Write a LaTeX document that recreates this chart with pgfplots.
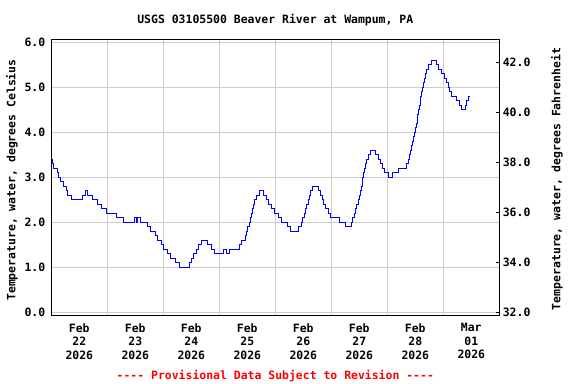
\documentclass[border=0pt]{standalone}
\usepackage{pgfplots}
\pgfplotsset{compat=1.18}
\usepackage{fontspec}
\newfontfamily\chartfont{DejaVu Sans Mono}[Ligatures=TeXOff]
\newcommand\cf{\chartfont\bfseries\fontsize{11.5}{13.5}\selectfont}
\definecolor{gridgray}{RGB}{204,204,204}
\definecolor{usgsblue}{RGB}{0,0,255}
\begin{document}
\begin{tikzpicture}
\path[use as bounding box] (0,0) rectangle (576bp,384bp);
\begin{axis}[
  at={(51.3bp,69bp)}, anchor=south west,
  scale only axis, width=448bp, height=275bp,
  xmin=0, xmax=8, ymin=-0.06, ymax=6.05,
  xtick={0.5,1.5,2.5,3.5,4.5,5.5,6.5,7.5},
  xticklabels={{Feb\\22\\2026},{Feb\\23\\2026},{Feb\\24\\2026},{Feb\\25\\2026},{Feb\\26\\2026},{Feb\\27\\2026},{Feb\\28\\2026},{Mar\\01\\2026}},
  minor xtick={1,2,3,4,5,6,7},
  xminorgrids=true, xmajorgrids=false,
  ytick={0,1,2,3,4,5,6},
  yticklabels={0.0,1.0,2.0,3.0,4.0,5.0,6.0},
  ymajorgrids=true,
  major tick length=0pt, minor tick length=0pt,
  grid style={gridgray, line width=1bp},
  minor grid style={gridgray, line width=1bp},
  axis line style={black, line width=1bp},
  tick label style={font=\cf},
  yticklabel style={xshift=-2.5bp},
  xticklabel style={align=center, yshift=-5bp},
]
\addplot[const plot, usgsblue, line width=1bp] coordinates {
(0,3.4)(0.02,3.3)(0.048,3.2)(0.108,3.1)(0.137,3.0)(0.167,2.9)(0.209,2.8)(0.280,2.7)(0.298,2.6)(0.358,2.5)
(0.554,2.6)(0.608,2.7)(0.643,2.6)(0.739,2.5)(0.822,2.4)(0.905,2.3)(0.989,2.2)(1.173,2.1)(1.292,2.0)
(1.477,2.1)(1.520,2.0)(1.540,2.1)(1.584,2.0)(1.721,1.9)(1.775,1.8)(1.852,1.7)(1.893,1.6)(1.970,1.5)
(2.006,1.4)(2.078,1.3)(2.137,1.2)(2.220,1.1)(2.286,1.0)(2.465,1.1)(2.506,1.2)(2.536,1.3)(2.595,1.4)
(2.625,1.5)(2.685,1.6)(2.792,1.5)(2.860,1.4)(2.923,1.3)(3.083,1.4)(3.131,1.3)(3.190,1.4)(3.357,1.5)
(3.400,1.6)(3.464,1.7)(3.488,1.8)(3.512,1.9)(3.536,2.0)(3.560,2.1)(3.583,2.2)(3.595,2.3)(3.607,2.4)
(3.631,2.5)(3.661,2.6)(3.714,2.7)(3.786,2.6)(3.845,2.5)(3.881,2.4)(3.940,2.3)(3.988,2.2)(4.054,2.1)
(4.107,2.0)(4.226,1.9)(4.280,1.8)(4.411,1.9)(4.471,2.0)(4.494,2.1)(4.518,2.2)(4.542,2.3)(4.566,2.4)
(4.590,2.5)(4.613,2.6)(4.637,2.7)(4.661,2.8)(4.768,2.7)(4.815,2.6)(4.839,2.5)(4.863,2.4)(4.899,2.3)
(4.946,2.2)(4.994,2.1)(5.143,2.0)(5.256,1.9)(5.363,2.0)(5.387,2.1)(5.411,2.2)(5.435,2.3)(5.458,2.4)
(5.482,2.5)(5.500,2.6)(5.518,2.7)(5.542,2.8)(5.553,2.9)(5.565,3.0)(5.583,3.1)(5.601,3.2)(5.619,3.3)
(5.631,3.4)(5.661,3.5)(5.702,3.6)(5.786,3.5)(5.839,3.4)(5.887,3.3)(5.911,3.2)(5.946,3.1)(6.018,3.0)
(6.089,3.1)(6.196,3.2)(6.351,3.3)(6.375,3.4)(6.399,3.5)(6.417,3.6)(6.435,3.7)(6.452,3.8)(6.476,3.9)
(6.488,4.0)(6.506,4.1)(6.518,4.2)(6.536,4.3)(6.548,4.4)(6.560,4.5)(6.577,4.6)(6.589,4.7)(6.601,4.8)
(6.613,4.9)(6.631,5.0)(6.649,5.1)(6.661,5.2)(6.679,5.3)(6.702,5.4)(6.740,5.5)(6.792,5.6)(6.881,5.5)
(6.923,5.4)(6.965,5.3)(7.020,5.2)(7.050,5.1)(7.095,5.0)(7.119,4.9)(7.155,4.8)(7.238,4.7)(7.298,4.6)
(7.333,4.5)(7.393,4.6)(7.417,4.7)(7.452,4.8)(7.464,4.8)
};
\end{axis}
\begin{axis}[
  at={(51.3bp,69bp)}, anchor=south west,
  scale only axis, width=448bp, height=275bp,
  xmin=0, xmax=8, ymin=31.892, ymax=42.89,
  axis y line*=right, axis x line=none,
  ytick={32,34,36,38,40,42},
  yticklabels={32.0,34.0,36.0,38.0,40.0,42.0},
  tick align=inside, major tick length=3bp,
  tick style={black, line width=1bp},
  axis line style={black, line width=1bp},
  tick label style={font=\cf},
  yticklabel style={xshift=0bp},
]
\addplot[draw=none] coordinates {(0,32)(8,42)};
\end{axis}
\node[font=\cf] at (275.3bp,363.5bp) {USGS 03105500 Beaver River at Wampum, PA};
\node[font=\cf, rotate=90] at (12bp,204bp) {Temperature, water, degrees Celsius};
\node[font=\cf, rotate=90] at (557bp,205bp) {Temperature, water, degrees Fahrenheit};
\node[font=\cf, text=red] at (275.3bp,8bp) {---- Provisional Data Subject to Revision ----};
\end{tikzpicture}
\end{document}
